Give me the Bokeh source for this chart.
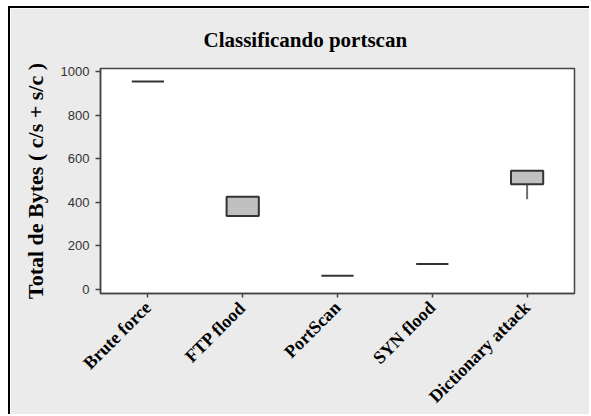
from bokeh.plotting import figure
from bokeh.models import Range1d, FactorRange
from bokeh.embed import file_html
from bokeh.resources import INLINE
import math

categories = ["Brute force", "FTP flood", "PortScan", "SYN flood", "Dictionary attack"]
q1 = [954, 338, 63, 117, 483]
q3 = [954, 426, 63, 117, 545]
lower = [954, 338, 63, 117, 414]
upper = [954, 426, 63, 117, 545]
y_ticks = [0, 200, 400, 600, 800, 1000]
title_text = "Classificando portscan"

p = figure(x_range=FactorRange(factors=categories, range_padding=0),
           y_range=Range1d(-18, 1014),
           width=581, height=408, output_backend="svg", toolbar_location=None,
           min_border_left=90, min_border_right=17, min_border_top=60, min_border_bottom=122)

p.background_fill_color = "white"
p.border_fill_color = "#ebebeb"
p.outline_line_color = "#444444"
p.outline_line_width = 1.5
p.xgrid.visible = False
p.ygrid.visible = False
p.styles = {"border-top": "2px solid black", "border-left": "2px solid black",
            "margin-left": "8px", "margin-top": "6px"}

p.title.text = title_text
p.title.text_font = "Liberation Serif"
p.title.text_font_size = "21px"
p.title.text_font_style = "bold"
p.title.text_color = "black"
p.title.align = "left"
p.title.offset = 103
p.title.vertical_align = "middle"
p.title.standoff = 32

# whiskers
p.segment(x0=categories, x1=categories, y0=lower, y1=q1, line_color="#6e6e6e", line_width=2)
p.segment(x0=categories, x1=categories, y0=q3, y1=upper, line_color="#6e6e6e", line_width=2)
# boxes
p.vbar(x=categories, bottom=q1, top=q3, width=0.34, fill_color="#c0c0c0",
       line_color="#333333", line_width=2)

p.yaxis.ticker = y_ticks
p.yaxis.axis_label = "Total de Bytes ( c/s + s/c )"
p.yaxis.axis_label_text_font = "Liberation Serif"
p.yaxis.axis_label_text_font_size = "22px"
p.yaxis.axis_label_text_font_style = "bold"
p.yaxis.axis_label_text_color = "black"
p.yaxis.axis_label_standoff = 10
p.yaxis.major_label_text_font = "Liberation Sans"
p.yaxis.major_label_text_font_size = "13px"
p.yaxis.major_label_text_color = "#333333"
p.yaxis.major_label_standoff = 6
p.yaxis.major_tick_in = 0
p.yaxis.major_tick_out = 5
p.yaxis.minor_tick_line_color = None

p.xaxis.major_label_orientation = math.pi / 4
p.xaxis.major_label_text_font = "Liberation Serif"
p.xaxis.major_label_text_font_size = "18px"
p.xaxis.major_label_text_font_style = "bold"
p.xaxis.major_label_text_color = "black"
p.xaxis.major_tick_in = 0
p.xaxis.major_tick_out = 4
p.xaxis.major_label_standoff = 7

for ax in (p.xaxis, p.yaxis):
    ax.axis_line_color = "#444444"
    ax.axis_line_width = 1.5
    ax.major_tick_line_color = "#444444"
    ax.major_tick_line_width = 1.5

open("out.html", "w").write(file_html(p, INLINE))
